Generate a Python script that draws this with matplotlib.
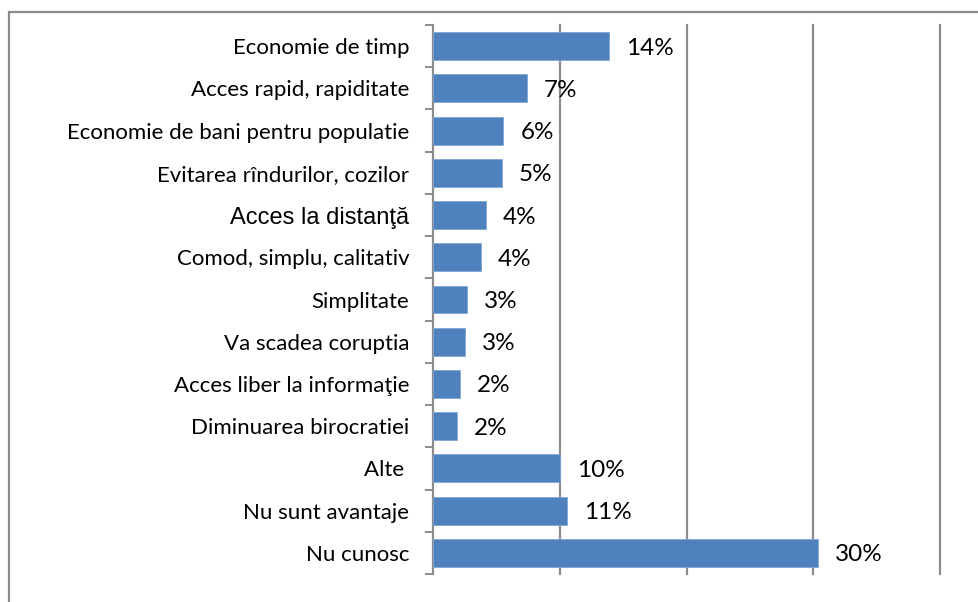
import matplotlib
matplotlib.use("Agg")
import matplotlib.pyplot as plt
from matplotlib.patches import Rectangle
from matplotlib.ticker import FixedLocator

categories = [
    "Economie de timp",
    "Acces rapid, rapiditate",
    "Economie de bani pentru populatie",
    "Evitarea rîndurilor, cozilor",
    "Acces la distanţă",
    "Comod, simplu, calitativ",
    "Simplitate",
    "Va scadea coruptia",
    "Acces liber la informaţie",
    "Diminuarea birocratiei",
    "Alte ",
    "Nu sunt avantaje",
    "Nu cunosc",
]
shares = [13.9, 7.4, 5.55, 5.45, 4.16, 3.79, 2.66, 2.55, 2.13, 1.89, 10.0, 10.58, 30.37]
grid_values = [10, 20, 30, 40]

BAR = "#4F81BD"
GRID = "#8C8C8C"
FONT = "Lato"

W, H, DPI = 979, 602, 100
fig = plt.figure(figsize=(W / DPI, H / DPI), dpi=DPI)
fig.patch.set_facecolor("white")

# outer frame of the chart area
fig.patches.append(Rectangle((9 / W, -0.05), 1.2, 1 - 12 / H + 0.05,
                             transform=fig.transFigure, fill=False,
                             edgecolor=GRID, linewidth=1.6))

left, right, top, bottom = 433 / W, 940 / W, 1 - 25 / H, 1 - 574 / H
ax = fig.add_axes([left, bottom, right - left, top - bottom])

y = list(range(len(categories)))
ax.barh(y, shares, height=0.66, color=BAR, edgecolor="#7FA6D6", linewidth=0.6, zorder=3)

ax.set_xlim(0, 40)
ax.set_ylim(len(categories) - 0.5, -0.5)

for i, v in enumerate(shares):
    ax.annotate(f"{v:.0f}%", xy=(v, i), xytext=(17, -2), textcoords="offset pixels",
                ha="left", va="center", fontsize=17.5, family=FONT, color="black",
                zorder=4)

# vertical gridlines, no x tick labels
ax.set_xticks(grid_values)
ax.tick_params(axis="x", length=0, labelbottom=False)
ax.xaxis.grid(True, color=GRID, linewidth=1.6)
ax.set_axisbelow(True)
for gl in ax.get_xgridlines():
    gl.set_clip_on(False)

# category labels with tick marks between rows
ax.set_yticks(y)
ax.set_yticklabels(categories)
for lbl in ax.get_yticklabels():
    if lbl.get_text() == "Acces la distanţă":
        lbl.set_family("Liberation Sans")
        lbl.set_fontsize(17)
    else:
        lbl.set_family(FONT)
        lbl.set_fontsize(16)
    lbl.set_color("black")
ax.yaxis.set_minor_locator(FixedLocator([i - 0.5 for i in range(len(categories) + 1)]))
ax.tick_params(axis="y", which="major", length=0, pad=17)
ax.tick_params(axis="y", which="minor", length=6, width=1.4, color=GRID)

for side in ("top", "right", "bottom"):
    ax.spines[side].set_visible(False)
ax.spines["left"].set_color(GRID)
ax.spines["left"].set_linewidth(1.6)

fig.savefig("out.png", dpi=DPI, facecolor="white")
